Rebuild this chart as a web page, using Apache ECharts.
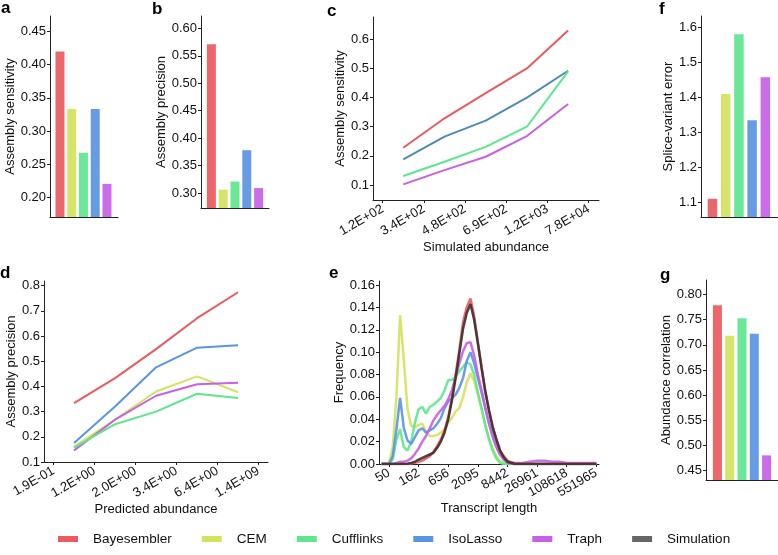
<!DOCTYPE html>
<html>
<head>
<meta charset="utf-8">
<title>Assembly comparison</title>
<script src="https://cdn.jsdelivr.net/npm/echarts@6/dist/echarts.min.js"></script>
<style>
html, body { margin: 0; padding: 0; background: #fff; }
#main { width: 778px; height: 555px; }
</style>
</head>
<body>
<div id="main"></div>
<script>
// tools, in the order of the bars and the legend
var tools = ['Bayesembler', 'CEM', 'Cufflinks', 'IsoLasso', 'Traph', 'Simulation'];
var toolColors = ['#ea5a5e', '#d2e35c', '#5ee68e', '#5a94e2', '#c760e6', '#666666'];

// bar panels a, b, f, g (Bayesembler, CEM, Cufflinks, IsoLasso, Traph)
var sensitivityA = [0.420, 0.333, 0.267, 0.333, 0.220];
var precisionB = [0.571, 0.306, 0.321, 0.378, 0.309];
var spliceErrorF = [1.110, 1.410, 1.581, 1.335, 1.458];
var abundCorrG = [0.779, 0.718, 0.753, 0.722, 0.480];

// panel c: sensitivity per simulated-abundance bin
var simAbundLabels = ['1.2E+02', '3.4E+02', '4.8E+02', '6.9E+02', '1.2E+03', '7.8E+04'];
var cBayesembler = [0.228, 0.329, 0.415, 0.500, 0.630];
var cCufflinks = [0.131, 0.180, 0.231, 0.300, 0.490];
var cIsoLasso = [0.188, 0.266, 0.321, 0.400, 0.492];
var cTraph = [0.102, 0.151, 0.197, 0.268, 0.378];

// panel d: precision per predicted-abundance bin
var predAbundLabels = ['1.9E-01', '1.2E+00', '2.0E+00', '3.4E+00', '6.4E+00', '1.4E+09'];
var dBayesembler = [0.334, 0.433, 0.548, 0.671, 0.774];
var dCEM = [0.160, 0.268, 0.380, 0.440, 0.377];
var dCufflinks = [0.157, 0.250, 0.300, 0.371, 0.354];
var dIsoLasso = [0.175, 0.320, 0.476, 0.554, 0.564];
var dTraph = [0.146, 0.268, 0.363, 0.409, 0.415];

// panel e: length distribution, x in tick units of the length axis
var lengthLabels = ['50', '162', '656', '2095', '8442', '26961', '108618', '551965'];
var eX = [-0.25, -0.125, 0, 0.125, 0.25, 0.375, 0.5, 0.625, 0.75, 0.875, 1, 1.125, 1.25, 1.375, 1.5, 1.625, 1.75, 1.875,
  2, 2.125, 2.25, 2.375, 2.5, 2.625, 2.75, 2.875, 3, 3.125, 3.25, 3.375, 3.5, 3.625, 3.75, 3.875, 4,
  4.25, 4.5, 4.75, 5, 5.25, 5.5, 5.75, 6, 6.25, 6.5, 6.75, 7];
var eCEM = [0, 0, 0.001, 0.015, 0.060, 0.133, 0.093, 0.049, 0.034, 0.033, 0.035, 0.036, 0.029, 0.025, 0.025, 0.026, 0.028, 0.031,
  0.037, 0.041, 0.047, 0.050, 0.060, 0.073, 0.081, 0.074, 0.062, 0.049, 0.035, 0.023, 0.014, 0.007, 0.003, 0.001, 0,
  0, 0, 0, 0, 0, 0, 0, 0, 0, 0, 0, 0];
var eCufflinks = [0, 0, 0, 0.004, 0.022, 0.031, 0.015, 0.012, 0.020, 0.037, 0.049, 0.051, 0.045, 0.051, 0.053, 0.056, 0.059, 0.066,
  0.075, 0.075, 0.078, 0.083, 0.087, 0.091, 0.089, 0.080, 0.064, 0.050, 0.035, 0.022, 0.012, 0.005, 0.001, 0, 0,
  0, 0, 0, 0, 0, 0, 0, 0, 0, 0, 0, 0];
var eIsoLasso = [0, 0, 0, 0.007, 0.031, 0.059, 0.032, 0.021, 0.018, 0.024, 0.030, 0.032, 0.028, 0.030, 0.032, 0.036, 0.041, 0.050,
  0.056, 0.059, 0.062, 0.068, 0.077, 0.092, 0.100, 0.090, 0.077, 0.064, 0.050, 0.037, 0.026, 0.016, 0.009, 0.004, 0.001,
  0, 0, 0, 0, 0, 0, 0, 0, 0, 0, 0, 0];
var eTraph = [0, 0, 0, 0, 0.001, 0.002, 0.002, 0.003, 0.005, 0.009, 0.014, 0.020, 0.025, 0.032, 0.039, 0.044, 0.048, 0.052,
  0.058, 0.066, 0.078, 0.090, 0.101, 0.108, 0.109, 0.097, 0.080, 0.066, 0.051, 0.036, 0.024, 0.015, 0.008, 0.004, 0.002,
  0.001, 0.001, 0.002, 0.003, 0.003, 0.002, 0.002, 0.001, 0.001, 0.001, 0.001, 0.001];
var eBayesembler = [0, 0, 0, 0, 0, 0, 0, 0, 0.0005, 0.001, 0.002, 0.003, 0.005, 0.007, 0.011, 0.016, 0.022, 0.030,
  0.042, 0.059, 0.080, 0.102, 0.127, 0.140, 0.148, 0.132, 0.109, 0.086, 0.065, 0.048, 0.033, 0.022, 0.012, 0.007, 0.003,
  0, 0, 0, 0, 0, 0, 0, 0, 0, 0, 0, 0];
var eSimulation = [0, 0, 0, 0, 0, 0, 0, 0.0002, 0.001, 0.002, 0.004, 0.0055, 0.007, 0.0085, 0.010, 0.0145, 0.020, 0.028,
  0.040, 0.057, 0.077, 0.099, 0.121, 0.135, 0.143, 0.129, 0.108, 0.086, 0.065, 0.048, 0.033, 0.022, 0.012, 0.006, 0.002,
  0, 0, 0, 0, 0, 0, 0, 0, 0, 0, 0, 0];

var FONT = '"Liberation Sans", Arial, Helvetica, sans-serif';
var AXIS = '#222';
var nameStyle = { color: '#111', fontFamily: FONT, fontSize: 13 };

function yAx(grid, min, max, ticks, dec, name, gap) {
  return {
    type: 'value', gridIndex: grid, min: min, max: max,
    name: name, nameLocation: 'middle', nameGap: gap, nameTextStyle: nameStyle,
    axisLine: { show: true, onZero: false, lineStyle: { color: AXIS, width: 1 } },
    axisTick: { show: true, length: 3, customValues: ticks, lineStyle: { color: AXIS } },
    axisLabel: {
      customValues: ticks, margin: 4, color: '#111', fontFamily: FONT, fontSize: 13,
      formatter: function (v) { return v.toFixed(dec); }
    },
    splitLine: { show: false }
  };
}

// bar panels put the bars on a plain value axis with no labels
function barX(grid, min, max) {
  return {
    type: 'value', gridIndex: grid, min: min, max: max,
    axisLine: { show: true, onZero: false, lineStyle: { color: AXIS, width: 1 } },
    axisTick: { show: false }, axisLabel: { show: false }, splitLine: { show: false }
  };
}

function lineX(grid, min, max, labels, name, gap) {
  var ticks = labels.map(function (l, i) { return i; });
  return {
    type: 'value', gridIndex: grid, min: min, max: max,
    name: name, nameLocation: 'middle', nameGap: gap, nameTextStyle: nameStyle,
    axisLine: { show: true, onZero: false, lineStyle: { color: AXIS, width: 1 } },
    axisTick: { show: true, length: 3, customValues: ticks, lineStyle: { color: AXIS } },
    axisLabel: {
      customValues: ticks, rotate: 30, margin: 8, color: '#111', fontFamily: FONT, fontSize: 13,
      formatter: function (v) { return labels[Math.round(v)]; }
    },
    splitLine: { show: false }
  };
}

function bars(grid, vals, w) {
  return {
    type: 'bar', name: 'bars' + grid, xAxisIndex: grid, yAxisIndex: grid, barWidth: w,
    data: vals.map(function (v, i) { return { value: [i, v], itemStyle: { color: toolColors[i], opacity: 0.92 } }; })
  };
}

function binLine(grid, name, vals, color) {
  return {
    type: 'line', name: name, xAxisIndex: grid, yAxisIndex: grid, showSymbol: false, symbol: 'none',
    itemStyle: { color: color }, lineStyle: { color: color, width: 2 },
    data: vals.map(function (v, i) { return [i + 0.5, v]; })
  };
}

function distLine(name, vals, color, lineColor) {
  return {
    type: 'line', name: name, xAxisIndex: 5, yAxisIndex: 5, showSymbol: false, symbol: 'none',
    itemStyle: { color: color }, lineStyle: { color: lineColor || color, width: 2.5, opacity: 0.9 },
    data: eX.map(function (x, i) { return [x, vals[i]]; })
  };
}

function letter(t, x, y) {
  return { type: 'text', left: x, top: y, style: { text: t, font: 'bold 17px ' + FONT, fill: '#000' } };
}

var chart = echarts.init(document.getElementById('main'));
chart.setOption({
  animation: false,
  backgroundColor: '#fff',
  grid: [
    { left: 50, top: 16, width: 68, height: 201 },   // a
    { left: 201, top: 16, width: 68, height: 192 },  // b
    { left: 373, top: 17, width: 226, height: 183 }, // c
    { left: 701, top: 16, width: 77, height: 201 },  // f
    { left: 44, top: 281, width: 224, height: 181 }, // d
    { left: 379, top: 281, width: 220, height: 183 },// e
    { left: 706, top: 280, width: 72, height: 200 }  // g
  ],
  xAxis: [
    barX(0, -0.85, 4.94),
    barX(1, -0.88, 4.88),
    lineX(2, -0.235, 5.25, simAbundLabels, 'Simulated abundance', 38),
    barX(3, -0.87, 4.96),
    lineX(4, -0.233, 5.23, predAbundLabels, 'Predicted abundance', 38),
    lineX(5, -0.338, 7.09, lengthLabels, 'Transcript length', 35),
    barX(6, -0.93, 4.93)
  ],
  yAxis: [
    yAx(0, 0.17, 0.4736, [0.20, 0.25, 0.30, 0.35, 0.40, 0.45], 2, 'Assembly sensitivity', 32),
    yAx(1, 0.2727, 0.6224, [0.30, 0.35, 0.40, 0.45, 0.50, 0.55, 0.60], 2, 'Assembly precision', 32),
    yAx(2, 0.0485, 0.6766, [0.1, 0.2, 0.3, 0.4, 0.5, 0.6], 1, 'Assembly sensitivity', 24),
    yAx(3, 1.058, 1.633, [1.1, 1.2, 1.3, 1.4, 1.5, 1.6], 1, 'Splice-variant error', 25),
    yAx(4, 0.1, 0.8186, [0.1, 0.2, 0.3, 0.4, 0.5, 0.6, 0.7, 0.8], 1, 'Assembly precision', 26),
    yAx(5, 0, 0.1636, [0, 0.02, 0.04, 0.06, 0.08, 0.10, 0.12, 0.14, 0.16], 2, 'Frequency', 32),
    yAx(6, 0.431, 0.829, [0.45, 0.50, 0.55, 0.60, 0.65, 0.70, 0.75, 0.80], 2, 'Abundance correlation', 29)
  ],
  legend: {
    data: tools.map(function (n) { return { name: n, icon: 'rect' }; }),
    left: 53, top: 527, itemWidth: 20, itemHeight: 6, itemGap: 30,
    textStyle: { fontFamily: FONT, fontSize: 13.5, color: '#111', padding: [0, 0, 0, 10] }
  },
  graphic: [
    letter('a', 1, 0), letter('b', 152, 1), letter('c', 327, 3), letter('f', 659, 1),
    letter('d', 0, 265), letter('e', 329, 265), letter('g', 660, 267)
  ],
  series: [
    // e first so the legend takes its colours
    distLine('CEM', eCEM, toolColors[1]),
    distLine('Cufflinks', eCufflinks, toolColors[2]),
    distLine('IsoLasso', eIsoLasso, toolColors[3]),
    distLine('Traph', eTraph, toolColors[4]),
    distLine('Bayesembler', eBayesembler, toolColors[0]),
    distLine('Simulation', eSimulation, toolColors[5], '#3d2f2f'),

    bars(0, sensitivityA, 9),
    bars(1, precisionB, 9),
    bars(3, spliceErrorF, 9.5),
    bars(6, abundCorrG, 9),

    binLine(2, 'Bayesembler', cBayesembler, toolColors[0]),
    binLine(2, 'IsoLasso', cIsoLasso, '#4e8cb2'),
    binLine(2, 'Cufflinks', cCufflinks, toolColors[2]),
    binLine(2, 'Traph', cTraph, toolColors[4]),

    binLine(4, 'Bayesembler', dBayesembler, toolColors[0]),
    binLine(4, 'IsoLasso', dIsoLasso, toolColors[3]),
    binLine(4, 'CEM', dCEM, toolColors[1]),
    binLine(4, 'Traph', dTraph, toolColors[4]),
    binLine(4, 'Cufflinks', dCufflinks, toolColors[2])
  ]
});
</script>
</body>
</html>
